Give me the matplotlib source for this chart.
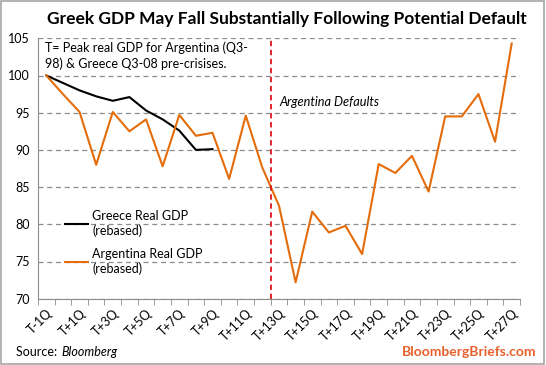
import matplotlib.pyplot as plt
from matplotlib.patches import Rectangle

plt.rcParams['font.family'] = ['Lato', 'DejaVu Sans']

quarters = ['T-1Q', 'T'] + ['T+%dQ' % i for i in range(1, 28)]
greece = [100, 99.0, 98.0, 97.2, 96.6, 97.1, 95.3, 94.1, 92.6, 90.0, 90.1]
argentina = [100, 97.5, 95.1, 88.0, 95.1, 92.5, 94.1, 87.8, 94.7, 91.9,
             92.3, 86.1, 94.6, 87.6, 82.5, 72.2, 81.7, 78.9, 79.8, 76.0,
             88.1, 86.9, 89.2, 84.4, 94.5, 94.5, 97.5, 91.1, 104.3]
yticks = [70, 75, 80, 85, 90, 95, 100, 105]
default_pos = 13.5

orange = '#E46C0A'
fig = plt.figure(figsize=(5.46, 3.65), dpi=100)
fig.patches.append(Rectangle((0.002, 0.003), 0.995, 0.994, transform=fig.transFigure,
                             fill=False, edgecolor='#A6A6A6', lw=1.2))
ax = fig.add_axes([38 / 546, 66.3 / 365, 482 / 546, 260.4 / 365])

x = list(range(len(quarters)))
ax.plot(x[:len(greece)], greece, color='black', lw=1.5, label='Greece Real GDP\n(rebased)')
ax.plot(x[:len(argentina)], argentina, color=orange, lw=1.5, label='Argentina Real GDP\n(rebased)')
ax.axvline(default_pos, color='#E3161D', lw=1.3, ls=(0, (3, 2)))

ax.set_xlim(-0.5, len(quarters) - 0.5)
ax.set_ylim(70, 105)
ax.set_yticks(yticks)
ax.tick_params(axis='y', length=0, labelsize=9, pad=6)
ax.grid(axis='y', color='#8C8C8C', ls=(0, (4, 3)), lw=0.9)
ax.set_axisbelow(True)

ax.set_xticks(x[::2])
ax.set_xticklabels(quarters[::2], rotation=45, ha='right', rotation_mode='anchor', fontsize=9)
ax.set_xticks([i - 0.5 for i in range(len(quarters) + 1)], minor=True)
ax.tick_params(axis='x', which='major', length=0, pad=6)
ax.tick_params(axis='x', which='minor', length=4, color='#8C8C8C')

for s in ['top', 'right']:
    ax.spines[s].set_visible(False)
for s in ['left', 'bottom']:
    ax.spines[s].set_color('#8C8C8C')

fig.text(0.525, 0.948, 'Greek GDP May Fall Substantially Following Potential Default',
         ha='center', va='center', fontsize=12.5, fontweight='bold')
ax.text(-0.05, 104.6, 'T= Peak real GDP for Argentina (Q3-\n98) & Greece Q3-08 pre-crisises.',
        ha='left', va='top', fontsize=9, linespacing=1.3)
ax.text(14.0, 96.5, 'Argentina Defaults', ha='left', va='center', fontsize=9.2, style='italic')

ax.legend(loc='upper left', bbox_to_anchor=(0.045, 0.36), frameon=False, fontsize=9,
          handlelength=1.9, handletextpad=0.3, labelspacing=0.9, borderaxespad=0)

fig.text(0.03, 0.035, 'Source: ', ha='left', va='center', fontsize=9)
fig.text(0.112, 0.035, 'Bloomberg', ha='left', va='center', fontsize=9, style='italic')
fig.text(0.982, 0.035, 'BloombergBriefs.com', ha='right', va='center', fontsize=10,
         fontweight='bold', color='#E8602C')

fig.savefig('out.png', dpi=100)
